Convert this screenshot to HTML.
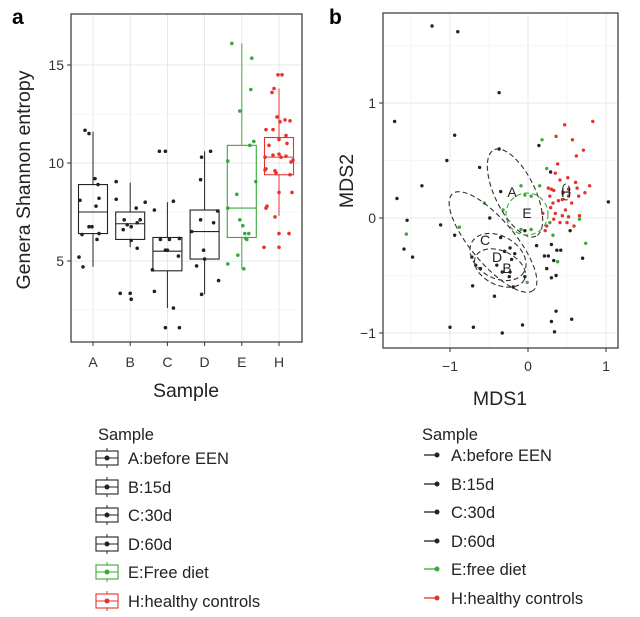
<!DOCTYPE html>
<html><head><meta charset="utf-8"><style>
body{margin:0;background:#fff;}
svg{display:block;font-family:"Liberation Sans",Arial,sans-serif;}
</style></head><body>
<svg id="fig" width="640" height="617" viewBox="0 0 640 617" xmlns="http://www.w3.org/2000/svg">
<text x="12" y="24" font-size="21" font-weight="bold">a</text>
<text x="329" y="24" font-size="21" font-weight="bold">b</text>
<g id="pa"></g>
<g id="pb"></g>
<g id="lega"></g>
<g id="legb"></g>
</svg>
<script>
const NS="http://www.w3.org/2000/svg";
const categories=["A","B","C","D","E","H"];
const colors=["#222","#222","#222","#222","#3aa83a","#e8312b"];
const q1=[6.4,6.1,4.5,5.1,6.2,9.4];
const med=[7.5,6.9,5.5,6.5,7.7,10.3];
const q3=[8.9,7.5,6.2,7.6,10.9,11.3];
const wlo=[4.7,5.7,2.6,3.3,4.6,7.3];
const whi=[11.6,9.0,8.0,10.6,16.1,13.8];
const ptsA=[11.67,11.5,9.2,8.9,8.1,8.2,7.8,6.75,6.75,6.35,6.4,6.1,5.2,4.7];
const jitA=[-8,-4,2,5,-13,6,3,-4,-1,-11,6,4,-14,-10];
const ptsB=[9.05,8.15,8.0,7.7,7.1,7.1,6.95,6.85,6.6,6.75,6.05,5.65,3.35,3.35,3.05];
const jitB=[-14,-14,15,6,-6,10,7,-3,-7,1,1,7,-10,0,1];
const ptsC=[10.6,10.6,8.05,7.6,6.1,6.1,6.15,5.55,5.55,5.25,4.55,3.45,2.6,1.6,1.6];
const jitC=[-8,-2,6,-13,-7,2,12,-2,0,11,-15,-13,6,-2,12];
const ptsD=[10.6,10.3,9.15,7.55,7.1,6.95,6.5,5.55,5.1,4.75,4.0,3.3];
const jitD=[6,-3,-4,13,-4,9,-13,-1,0,-8,14,-3];
const ptsE=[16.1,15.35,13.75,12.65,11.1,10.9,10.1,9.05,8.4,7.7,7.1,6.8,6.4,6.4,6.15,6.1,5.3,4.85,4.6];
const jitE=[-10,10,9,-2,12,8,-14,14,-5,-14,-2,1,3,7,4,5,-4,-14,2];
const ptsH=[14.5,14.5,13.8,13.6,12.35,12.2,12.1,12.15,11.7,11.7,11.4,11.2,11.0,10.9,10.3,10.4,10.45,10.3,10.35,10.05,10.15,9.7,9.6,9.5,9.4,9.65,8.5,8.5,7.8,7.7,7.25,6.4,6.4,5.7,5.7];
const jitH=[3,-1,-5,-7,-2,6,1,11,-13,-6,7,0,8,-10,-14,-6,0,2,7,12,14,-13,-4,-3,11,-14,13,0,-12,-13,-4,0,10,-15,0];
const allPts=[ptsA,ptsB,ptsC,ptsD,ptsE,ptsH];
const allJit=[jitA,jitB,jitC,jitD,jitE,jitH];
const yTicksA=[5,10,15];
const blkX=[-1.23,-0.9,-0.37,-1.71,-0.94,-1.04,-0.37,0.14,-1.36,-1.68,-0.62,-0.35,0.29,-1.55,-1.12,-0.49,-0.04,-0.94,-0.35,-1.59,-1.48,-0.23,-0.3,-0.17,-0.21,0.11,0.3,0.37,0.42,0.21,0.26,0.33,0.54,0.7,1.03,-0.72,-0.67,-0.61,-0.4,-0.33,-0.23,-0.24,-0.04,-0.19,0.24,0.3,0.36,-0.71,-0.43,0.36,0.3,0.56,-0.07,-1.0,-0.7,-0.33,0.34];
const blkY=[1.67,1.62,1.09,0.84,0.72,0.5,0.6,0.63,0.28,0.17,0.44,0.23,0.4,-0.02,-0.06,0,-0.11,-0.15,-0.17,-0.27,-0.34,-0.26,-0.29,-0.31,-0.36,-0.24,-0.23,-0.28,-0.28,-0.33,-0.33,-0.37,-0.11,-0.35,0.14,-0.34,-0.41,-0.44,-0.41,-0.47,-0.47,-0.51,-0.51,-0.6,-0.44,-0.52,-0.5,-0.59,-0.68,-0.81,-0.9,-0.88,-0.93,-0.95,-0.95,-1.0,-0.99];
const grnX=[0.18,0.24,-0.09,0.15,-0.04,0.04,-0.56,-0.88,-1.56,-0.09,0.04,0.28,0.32,0.66,0.74,0.38,-0.01,-0.32];
const grnY=[0.68,0.43,0.28,0.28,0.2,0.19,0.13,-0.08,-0.14,-0.1,-0.1,-0.04,-0.15,-0.01,-0.22,-0.38,-0.56,0.07];
const redX=[0.47,0.83,0.36,0.57,0.71,0.62,0.38,0.35,0.51,0.41,0.61,0.26,0.3,0.33,0.52,0.63,0.79,0.45,0.73,0.28,0.52,0.65,0.32,0.39,0.56,0.29,0.48,0.19,0.35,0.44,0.52,0.66,0.33,0.41,0.5,0.24,0.59,0.22,0.44];
const redY=[0.81,0.84,0.71,0.68,0.59,0.54,0.47,0.39,0.35,0.33,0.31,0.26,0.25,0.24,0.25,0.26,0.28,0.22,0.22,0.19,0.19,0.19,0.13,0.15,0.13,0.09,0.07,0.04,0.04,0.02,0.01,0.02,-0.01,-0.04,-0.04,-0.07,-0.07,-0.11,0.16];
const xTicksB=[-1,0,1];
const yTicksB=[-1,0,1];
const legA=["A:before EEN","B:15d","C:30d","D:60d","E:Free diet","H:healthy controls"];
const legB=["A:before EEN","B:15d","C:30d","D:60d","E:free diet","H:healthy controls"];

function el(tag,attrs,parent){const e=document.createElementNS(NS,tag);for(const k in attrs)e.setAttribute(k,attrs[k]);parent.appendChild(e);return e;}

const pa=document.getElementById('pa');
const L=71,R=302,T=14,B=342;
const ya=v=>163-(v-10)*19.6;
const xa=i=>93+i*37.2;
[2.5,7.5,12.5].forEach(v=>el('line',{x1:L,x2:R,y1:ya(v),y2:ya(v),stroke:'#f0f0f0','stroke-width':0.6},pa));
yTicksA.forEach(v=>el('line',{x1:L,x2:R,y1:ya(v),y2:ya(v),stroke:'#e3e3e3','stroke-width':0.8},pa));
categories.forEach((c,i)=>el('line',{x1:xa(i),x2:xa(i),y1:T,y2:B,stroke:'#e3e3e3','stroke-width':0.8},pa));
categories.forEach((c,i)=>{
  const g=el('g',{},pa);
  
  
  const x=xa(i),col=colors[i];
  el('line',{x1:x,x2:x,y1:ya(whi[i]),y2:ya(q3[i]),stroke:col,'stroke-width':1},g);
  el('line',{x1:x,x2:x,y1:ya(q1[i]),y2:ya(wlo[i]),stroke:col,'stroke-width':1},g);
  el('rect',{x:x-14.5,y:ya(q3[i]),width:29,height:ya(q1[i])-ya(q3[i]),fill:'none',stroke:col,'stroke-width':1.1},g);
  el('line',{x1:x-14.5,x2:x+14.5,y1:ya(med[i]),y2:ya(med[i]),stroke:col,'stroke-width':1.1},g);
  allPts[i].forEach((v,j)=>{
    const p=el('circle',{cx:x+allJit[i][j],cy:ya(v),r:1.8,fill:col},g);
    
    
  });
  const t=el('text',{x:x,y:367,'font-size':14,'text-anchor':'middle',fill:'#333'},pa);
  t.textContent=c;
  
  
  el('line',{x1:x,x2:x,y1:B,y2:B+4,stroke:'#333'},pa);
});
yTicksA.forEach(v=>{
  el('line',{x1:L-4,x2:L,y1:ya(v),y2:ya(v),stroke:'#333'},pa);
  const t=el('text',{x:L-7,y:ya(v)+5,'font-size':14,'text-anchor':'end',fill:'#333'},pa);
  t.textContent=v;
  
  
});
el('rect',{x:L,y:T,width:R-L,height:B-T,fill:'none',stroke:'#333','stroke-width':1.2},pa);
let t=el('text',{x:186,y:397,'font-size':19.5,'text-anchor':'middle',fill:'#222'},pa);t.textContent='Sample';


t=el('text',{x:0,y:0,'font-size':19.5,'text-anchor':'middle',fill:'#222',transform:'translate(30,180) rotate(-90)'},pa);t.textContent='Genera Shannon entropy';



const pb=document.getElementById('pb');
const bL=383,bR=618,bT=13,bB=348;
const xb=v=>528+v*78;
const yb=v=>218-v*115;
[-1.5,-0.5,0.5].forEach(v=>el('line',{x1:xb(v),x2:xb(v),y1:bT,y2:bB,stroke:'#f0f0f0','stroke-width':0.6},pb));
[-0.5,0.5,1.5].forEach(v=>el('line',{x1:bL,x2:bR,y1:yb(v),y2:yb(v),stroke:'#f0f0f0','stroke-width':0.6},pb));
xTicksB.forEach(v=>el('line',{x1:xb(v),x2:xb(v),y1:bT,y2:bB,stroke:'#e3e3e3','stroke-width':0.8},pb));
yTicksB.forEach(v=>el('line',{x1:bL,x2:bR,y1:yb(v),y2:yb(v),stroke:'#e3e3e3','stroke-width':0.8},pb));
function drawPts(X,Y,col,name){X.forEach((v,i)=>{const p=el('circle',{cx:xb(v),cy:yb(Y[i]),r:1.7,fill:col},pb);
 
 });}
drawPts(blkX,blkY,'#222','point-black');
drawPts(grnX,grnY,'#3aa83a','point-free-diet');
drawPts(redX,redY,'#e8312b','point-healthy');
const ell=[[515,193,48,20,64,'#333'],[493,242,63,22,50,'#333'],[498,257,30,21,30,'#333'],[500,268,27,17,25,'#333'],[527,214,21,21,0,'#3aa83a'],[566,192,4,8,0,'#333']];
ell.forEach(e=>{const q=el('ellipse',{cx:e[0],cy:e[1],rx:e[2],ry:e[3],transform:`rotate(${e[4]} ${e[0]} ${e[1]})`,fill:'none',stroke:e[5],'stroke-width':1.1,'stroke-dasharray':'5,3'},pb);
 
 });
[['A',512,197],['E',527,218],['C',485,245],['D',497,262],['B',507,273],['H',566,197]].forEach(l=>{const q=el('text',{x:l[1],y:l[2],'font-size':14,'text-anchor':'middle',fill:'#222'},pb);q.textContent=l[0];
 
 });
xTicksB.forEach(v=>{el('line',{x1:xb(v),x2:xb(v),y1:bB,y2:bB+4,stroke:'#333'},pb);
 const q=el('text',{x:xb(v),y:371,'font-size':14,'text-anchor':'middle',fill:'#333'},pb);q.textContent=v<0?'\u2212'+(-v):v;
 
 });
yTicksB.forEach(v=>{el('line',{x1:bL-4,x2:bL,y1:yb(v),y2:yb(v),stroke:'#333'},pb);
 const q=el('text',{x:bL-7,y:yb(v)+5,'font-size':14,'text-anchor':'end',fill:'#333'},pb);q.textContent=v<0?'\u2212'+(-v):v;
 
 });
el('rect',{x:bL,y:bT,width:bR-bL,height:bB-bT,fill:'none',stroke:'#333','stroke-width':1.2},pb);
t=el('text',{x:500,y:405,'font-size':19.5,'text-anchor':'middle',fill:'#222'},pb);t.textContent='MDS1';


t=el('text',{x:0,y:0,'font-size':19.5,'text-anchor':'middle',fill:'#222',transform:'translate(353,181) rotate(-90)'},pb);t.textContent='MDS2';



const ly=[458,487,515,544,572,601];
const la=document.getElementById('lega');
t=el('text',{x:98,y:440,'font-size':16.5,fill:'#222'},la);t.textContent='Sample';


legA.forEach((s,i)=>{const g=el('g',{},la);
 
 
 const c=colors[i],y=ly[i];
 el('line',{x1:107,x2:107,y1:y-10,y2:y+10,stroke:c},g);
 el('rect',{x:96,y:y-7,width:22,height:14,fill:'#fff',stroke:c,'stroke-width':1.1},g);
 el('line',{x1:96,x2:118,y1:y,y2:y,stroke:c},g);
 el('circle',{cx:107,cy:y,r:2.5,fill:c},g);
 const q=el('text',{x:128,y:y+6,'font-size':16.5,fill:'#222'},g);q.textContent=s;});
const lb=document.getElementById('legb');
t=el('text',{x:422,y:440,'font-size':16.5,fill:'#222'},lb);t.textContent='Sample';


legB.forEach((s,i)=>{const g=el('g',{},lb);
 
 
 const c=colors[i],y=ly[i]-3;
 el('line',{x1:424,x2:437,y1:y,y2:y,stroke:c,'stroke-width':1.3},g);
 el('circle',{cx:437,cy:y,r:2.5,fill:c},g);
 const q=el('text',{x:451,y:y+6,'font-size':16.5,fill:'#222'},g);q.textContent=s;});
</script>
</body></html>
